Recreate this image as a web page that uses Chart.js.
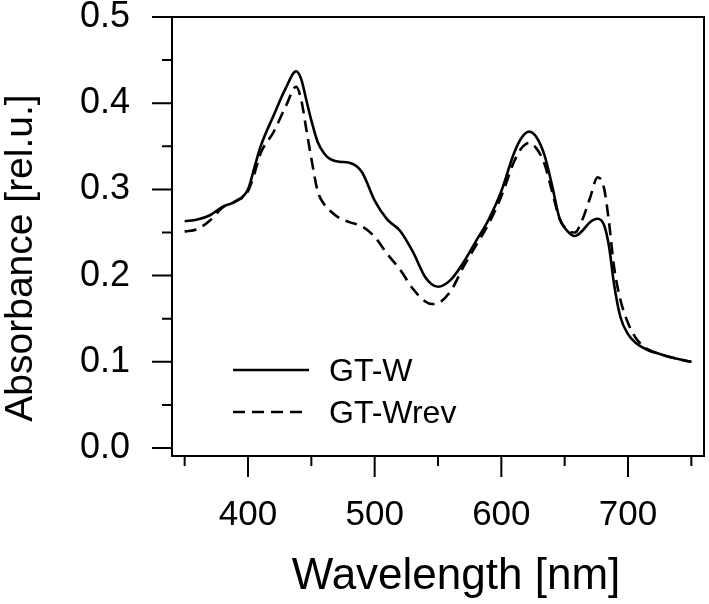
<!DOCTYPE html>
<html>
<head>
<meta charset="utf-8">
<script src="https://cdn.jsdelivr.net/npm/chart.js@4/dist/chart.umd.min.js"></script>
<style>
  html, body { margin: 0; padding: 0; background: #fff; }
  #wrap { width: 709px; height: 604px; }
</style>
</head>
<body>
<div id="wrap"><canvas id="c" width="709" height="604"></canvas></div>
<script>
// ---- data ----
const wavelength = [350,360,370,380,390,400,405,410,420,430,438,442,446,450,455,460,465,472,480,490,500,510,520,530,540,545,550,560,570,580,590,600,610,616,622,628,634,640,646,652,658,664,670,676,681,685,689,694,700,706,715,725,737,750];
const gtW = [0.263,0.265,0.270,0.280,0.286,0.300,0.325,0.350,0.385,0.418,0.437,0.428,0.404,0.380,0.355,0.342,0.335,0.332,0.331,0.320,0.287,0.265,0.252,0.228,0.198,0.190,0.187,0.195,0.215,0.240,0.265,0.298,0.342,0.360,0.367,0.360,0.340,0.305,0.266,0.252,0.246,0.252,0.262,0.266,0.259,0.234,0.190,0.152,0.132,0.122,0.114,0.109,0.104,0.100];
const gtWrev = [0.251,0.254,0.264,0.279,0.286,0.298,0.318,0.342,0.366,0.397,0.419,0.404,0.370,0.336,0.298,0.283,0.275,0.267,0.262,0.257,0.245,0.225,0.207,0.185,0.170,0.167,0.168,0.182,0.210,0.235,0.260,0.292,0.332,0.348,0.354,0.347,0.330,0.298,0.266,0.253,0.250,0.265,0.290,0.314,0.302,0.262,0.210,0.172,0.145,0.128,0.115,0.109,0.104,0.100];
const seriesLabels = ["GT-W", "GT-Wrev"];
const xMajorTicks = [400, 500, 600, 700];
const xMinorTicks = [350, 450, 550, 650, 750];
const yMajorTicks = [0.0, 0.1, 0.2, 0.3, 0.4, 0.5];
const yMinorTicks = [0.05, 0.15, 0.25, 0.35, 0.45];
const xTitle = "Wavelength [nm]";
const yTitle = "Absorbance [rel.u.]";

const FONT = "'Liberation Sans', Arial, Helvetica, sans-serif";

const toPts = (ys) => wavelength.map((x, i) => ({ x: x, y: ys[i] }));

const decor = {
  id: 'decor',
  afterDraw(chart) {
    const ctx = chart.ctx;
    const a = chart.chartArea;
    const xs = chart.scales.x, ys = chart.scales.y;
    ctx.save();
    ctx.strokeStyle = '#000';
    ctx.lineWidth = 2;
    ctx.lineCap = 'butt';
    // frame
    ctx.beginPath();
    ctx.moveTo(a.left, a.top); ctx.lineTo(a.right, a.top);
    ctx.lineTo(a.right, a.bottom); ctx.lineTo(a.left, a.bottom);
    ctx.lineTo(a.left, a.top);
    ctx.stroke();
    // y ticks
    ctx.beginPath();
    yMajorTicks.forEach(v => { const p = ys.getPixelForValue(v); ctx.moveTo(a.left - 20, p); ctx.lineTo(a.left, p); });
    yMinorTicks.forEach(v => { const p = ys.getPixelForValue(v); ctx.moveTo(a.left - 10, p); ctx.lineTo(a.left, p); });
    // x ticks
    xMajorTicks.forEach(v => { const p = xs.getPixelForValue(v); ctx.moveTo(p, a.bottom); ctx.lineTo(p, a.bottom + 21); });
    xMinorTicks.forEach(v => { const p = xs.getPixelForValue(v); ctx.moveTo(p, a.bottom); ctx.lineTo(p, a.bottom + 10); });
    ctx.stroke();

    // axis titles
    ctx.fillStyle = '#000';
    ctx.font = '44px ' + FONT;
    ctx.textAlign = 'center';
    ctx.textBaseline = 'alphabetic';
    ctx.fillText(xTitle, 456, 589);
    ctx.save();
    ctx.translate(32, 258);
    ctx.rotate(-Math.PI / 2);
    ctx.font = '39px ' + FONT;
    ctx.fillText(yTitle, 0, 0);
    ctx.restore();

    // legend
    const legY = [370, 412];
    chart.data.datasets.forEach((ds, i) => {
      ctx.beginPath();
      ctx.lineWidth = 2.5;
      ctx.setLineDash(ds.borderDash || []);
      ctx.moveTo(233, legY[i]); ctx.lineTo(309, legY[i]);
      ctx.stroke();
      ctx.setLineDash([]);
      ctx.font = '32px ' + FONT;
      ctx.textAlign = 'left';
      ctx.textBaseline = 'middle';
      ctx.fillText(ds.label, 329, legY[i] + 2);
    });
    ctx.restore();
  }
};

new Chart(document.getElementById('c'), {
  type: 'line',
  data: {
    datasets: [
      { label: seriesLabels[0], data: toPts(gtW), borderColor: '#000', borderWidth: 2.6, pointRadius: 0, fill: false, cubicInterpolationMode: 'monotone' },
      { label: seriesLabels[1], data: toPts(gtWrev), borderColor: '#000', borderWidth: 2.6, borderDash: [12, 7], pointRadius: 0, fill: false, cubicInterpolationMode: 'monotone' }
    ]
  },
  options: {
    responsive: false,
    animation: false,
    devicePixelRatio: 1,
    layout: { padding: { top: 17, right: 5, left: 0, bottom: 0 } },
    plugins: { legend: { display: false }, tooltip: { enabled: false } },
    scales: {
      x: {
        type: 'linear', min: 340, max: 760,
        grid: { display: false, drawTicks: false },
        border: { display: false },
        afterBuildTicks: (s) => { s.ticks = xMajorTicks.map(v => ({ value: v })); },
        afterFit: (s) => { s.height = 148; s.paddingLeft = 0; s.paddingRight = 0; },
        ticks: { color: '#000', font: { family: FONT, size: 35 }, padding: 38, maxRotation: 0, autoSkip: false, callback: (v) => String(v) }
      },
      y: {
        type: 'linear', min: -0.0093, max: 0.5,
        grid: { display: false, drawTicks: false },
        border: { display: false },
        afterBuildTicks: (s) => { s.ticks = yMajorTicks.map(v => ({ value: v })); },
        afterFit: (s) => { s.width = 172; s.paddingTop = 0; s.paddingBottom = 0; },
        ticks: { color: '#000', font: { family: FONT, size: 36 }, padding: 42, autoSkip: false, callback: (v) => Number(v).toFixed(1) }
      }
    }
  },
  plugins: [decor]
});
</script>
</body>
</html>
